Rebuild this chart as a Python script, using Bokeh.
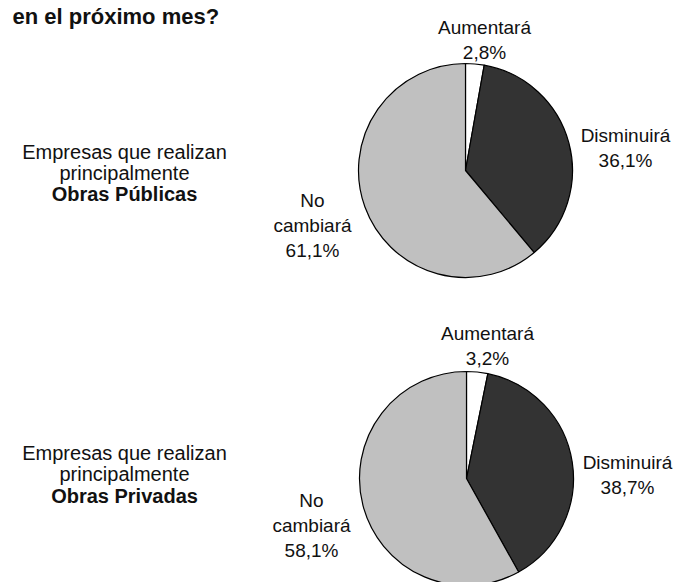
import math
from bokeh.plotting import figure
from bokeh.models import Range1d
from bokeh.core.properties import value
from bokeh.embed import file_html
from bokeh.resources import INLINE

# ---------------- data ----------------
categories = ["Aumentará", "Disminuirá", "No cambiará"]
publicas = [2.8, 36.1, 61.1]
privadas = [3.2, 38.7, 58.1]
group_lines_1 = ["Empresas que realizan", "principalmente", "Obras Públicas"]
group_lines_2 = ["Empresas que realizan", "principalmente", "Obras Privadas"]
title_text = "en el próximo mes?"

# ---------------- styles / layout ----------------
colors = ["#ffffff", "#333333", "#c0c0c0"]
FONT = "Liberation Sans"
W, H = 687, 582

def Y(page_y):
    return H - page_y

p = figure(width=W, height=H, output_backend="svg", toolbar_location=None,
           x_range=Range1d(0, W), y_range=Range1d(0, H),
           min_border=0, tools="")
p.axis.visible = False
p.grid.visible = False
p.outline_line_color = None
p.background_fill_color = "white"
p.border_fill_color = "white"

pies = [
    dict(vals=publicas, lines=group_lines_1, cx=465, cy=170, r=107,
         lab=[(484, 27), (625, 135), (312, 200)], left=(124, [151, 172, 193])),
    dict(vals=privadas, lines=group_lines_2, cx=466, cy=478, r=107,
         lab=[(487, 333), (627, 462), (311, 500)], left=(124, [452, 473, 495])),
]

for pie in pies:
    vals = pie["vals"]
    total = sum(vals)
    cum = 0.0
    starts, ends = [], []
    for v in vals:
        starts.append(math.pi / 2 - 2 * math.pi * cum / total)
        cum += v
        ends.append(math.pi / 2 - 2 * math.pi * cum / total)
    p.wedge(x=[pie["cx"]] * 3, y=[Y(pie["cy"])] * 3, radius=pie["r"],
            start_angle=starts, end_angle=ends, direction="clock",
            fill_color=colors, line_color="black", line_width=1.2)

    # slice labels
    for (lx, ly), cat, v in zip(pie["lab"], categories, vals):
        lines = cat.split(" ") + [f"{v:.1f}".replace(".", ",") + "%"]
        p.text(x=[lx] * len(lines), y=[Y(ly + 25 * i) for i in range(len(lines))],
               text=lines, text_align="center", text_baseline="alphabetic",
               text_font=value(FONT), text_font_size="19px", text_color="#111111")

    # group description on the left
    gx, gys = pie["left"]
    for i, (t, gy) in enumerate(zip(pie["lines"], gys)):
        p.text(x=[gx], y=[Y(gy)], text=[t], text_align="center",
               text_baseline="alphabetic", text_font=value(FONT),
               text_font_size="20px", text_color="#111111",
               text_font_style="bold" if i == 2 else "normal")

# last line of the (cut-off) title at the very top
p.text(x=[12], y=[Y(16)], text=[title_text], text_align="left", text_baseline="alphabetic",
       text_font=value(FONT), text_font_size="22px", text_font_style="bold",
       text_color="#111111")

open("out.html", "w").write(file_html(p, INLINE))
